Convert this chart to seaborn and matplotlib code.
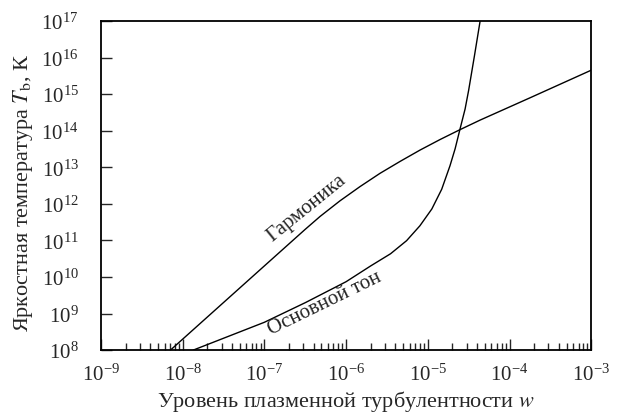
import numpy as np
import pandas as pd
import matplotlib
matplotlib.use('Agg')
import matplotlib.pyplot as plt
import matplotlib.ticker as mticker
import seaborn as sns

# curves (log-log)
harm_w = [7.1e-9, 1e-7, 3.16e-7, 4.8e-7, 8.4e-7, 1.48e-6, 2.6e-6, 4.6e-6, 8.05e-6,
          1.42e-5, 2.49e-5, 4.38e-5, 1.78e-4, 1e-3]
harm_T = [1e8, 2e10, 2e11, 4.5e11, 1.2e12, 2.95e12, 6.8e12, 1.45e13, 2.95e13,
          5.75e13, 1.07e14, 1.95e14, 7.9e14, 4.5e15]

fund_w = [1.35e-8, 1e-7, 3.2e-7, 1e-6, 2e-6, 3.5e-6, 5.5e-6, 8e-6, 1.12e-5, 1.48e-5,
          1.87e-5, 2.16e-5, 2.49e-5, 2.86e-5, 3.16e-5, 3.72e-5, 4.37e-5]
fund_T = [1e8, 5.75e8, 2e9, 7.4e9, 2e10, 4.3e10, 9.8e10, 2.5e11, 7.2e11, 2.5e12,
          1.1e13, 3.2e13, 1.15e14, 3.9e14, 1.26e15, 1.1e16, 1e17]

x_decades = list(range(-9, -2))
y_decades = list(range(8, 18))

harm_label = 'Гармоника'
fund_label = 'Основной тон'
xlabel = 'Уровень плазменной турбулентности $w$'
ylabel = 'Яркостная температура $T_\\mathrm{b}$, К'

sns.set_style('white')
plt.rcParams['font.family'] = ['Liberation Serif', 'DejaVu Serif']
plt.rcParams['mathtext.fontset'] = 'stix'

df = pd.concat([
    pd.DataFrame({'w': harm_w, 'T': harm_T, 'curve': harm_label}),
    pd.DataFrame({'w': fund_w, 'T': fund_T, 'curve': fund_label}),
])

fig = plt.figure(figsize=(6.23, 4.14), dpi=100)
ax = fig.add_axes([0.162, 0.152, 0.787, 0.795])
sns.lineplot(data=df, x='w', y='T', units='curve', estimator=None,
             color='black', linewidth=1.0, ax=ax, legend=False)
ax.set_xscale('log')
ax.set_yscale('log')
ax.set_xlim(1e-9, 1e-3)
ax.set_ylim(1e8, 1e17)

# ticks only inside the visible range
xmajor = [10.0 ** k for k in x_decades]
xminor = [m * 10.0 ** k for k in x_decades[:-1] for m in range(2, 10)]
ax.xaxis.set_major_locator(mticker.FixedLocator(xmajor))
ax.xaxis.set_minor_locator(mticker.FixedLocator(xminor))
ax.xaxis.set_major_formatter(mticker.LogFormatterMathtext())
ax.xaxis.set_minor_formatter(mticker.NullFormatter())
ax.yaxis.set_major_locator(mticker.FixedLocator([10.0 ** k for k in y_decades]))
ax.yaxis.set_minor_locator(mticker.NullLocator())
ax.yaxis.set_major_formatter(mticker.LogFormatterMathtext())

ax.tick_params(axis='x', which='major', direction='in', length=8, width=1, pad=10, labelsize=15, bottom=True, top=False)
ax.tick_params(axis='x', which='minor', direction='in', length=5, width=1, bottom=True, top=False)
ax.tick_params(axis='y', which='major', direction='in', length=8, width=1, pad=16, labelsize=15, left=True, right=False)

for s in ax.spines.values():
    s.set_color('black')
    s.set_linewidth(1.3)

ax.set_xlabel(xlabel, fontsize=16, labelpad=2)
ax.set_ylabel(ylabel, fontsize=16)
ax.yaxis.set_label_coords(-0.135, 0.48)

ax.text(3.3e-7, 8.1e11, harm_label, rotation=39, fontsize=15, ha='center', va='center')
ax.text(5.5e-7, 2.0e9, fund_label, rotation=26, fontsize=15, ha='center', va='center')

fig.savefig('out.png', dpi=100)
